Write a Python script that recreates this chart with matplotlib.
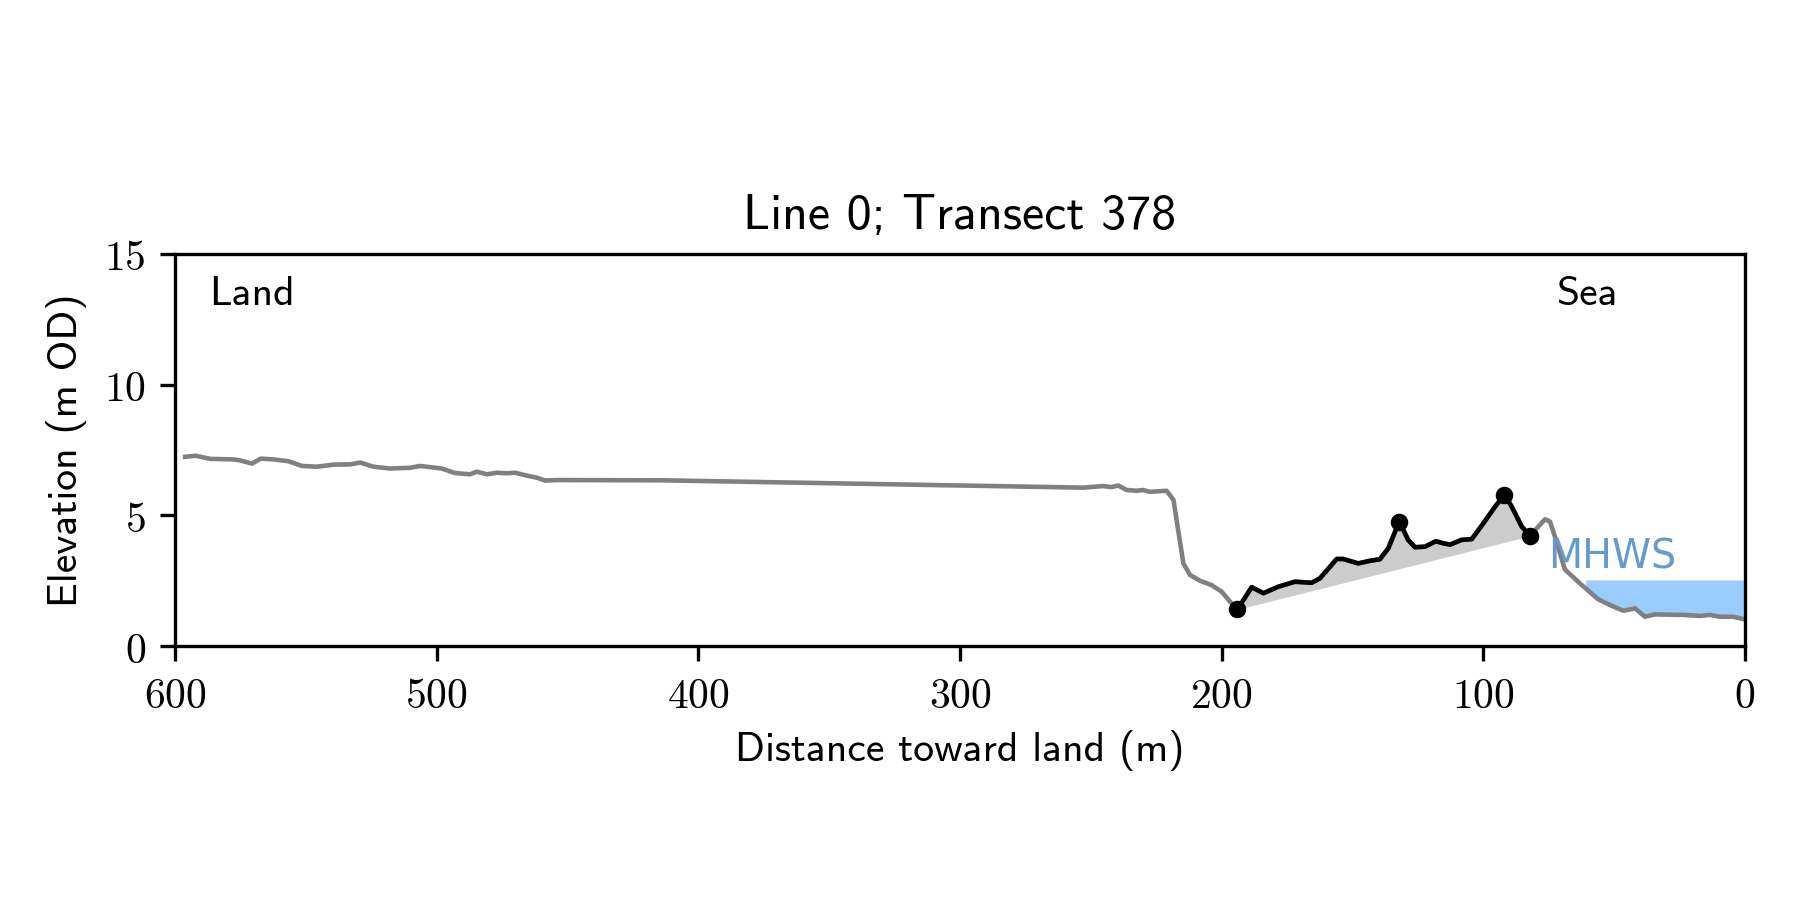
import numpy as np
import matplotlib
matplotlib.use("Agg")
import matplotlib.pyplot as plt
from matplotlib import ticker

plt.rcParams['mathtext.fontset'] = 'cm'
plt.rcParams['axes.unicode_minus'] = False

# profile along transect: distance toward land (m) and elevation (m OD)
dist = [596.1, 592.0, 586.5, 577.6, 575.0, 570.6, 567.2, 562.3, 556.6, 551.5,
        545.8, 539.4, 533.0, 529.2, 524.1, 517.8, 510.1, 506.3, 498.0, 493.0,
        487.3, 484.6, 480.8, 477.0, 473.2, 470.0, 465.5, 461.7, 458.5, 454.1,
        413.6, 252.9, 245.2, 242.1, 239.5, 236.3, 232.4, 230.1, 227.4, 221.0,
        218.4, 214.6, 212.1, 208.3, 203.8, 200.0, 196.8, 194.0, 188.5, 184.0,
        178.3, 172.0, 165.6, 162.4, 156.0, 153.5, 147.8, 143.3, 139.5, 136.3,
        132.1, 128.7, 126.1, 122.3, 118.1, 115.3, 112.7, 108.3, 104.4, 100.0,
        95.5, 91.9, 89.1, 85.3, 82.2, 76.4, 74.5, 72.6, 68.8, 63.1,
        60.8, 56.1, 51.6, 46.5, 42.0, 38.2, 34.4, 23.6, 17.2, 13.4,
        9.6, 4.5, 0.6]
elev = [7.24, 7.28, 7.16, 7.14, 7.10, 6.98, 7.17, 7.14, 7.07, 6.89,
        6.86, 6.94, 6.95, 7.02, 6.86, 6.79, 6.82, 6.89, 6.79, 6.62,
        6.57, 6.67, 6.57, 6.63, 6.61, 6.63, 6.52, 6.44, 6.33, 6.35,
        6.34, 6.06, 6.12, 6.08, 6.14, 5.97, 5.94, 5.97, 5.90, 5.94,
        5.59, 3.16, 2.72, 2.50, 2.33, 2.08, 1.70, 1.40, 2.25, 2.02,
        2.27, 2.46, 2.42, 2.59, 3.33, 3.33, 3.16, 3.26, 3.32, 3.74,
        4.76, 4.06, 3.78, 3.80, 4.01, 3.93, 3.88, 4.06, 4.09, 4.69,
        5.33, 5.78, 5.33, 4.57, 4.21, 4.85, 4.76, 4.18, 2.93, 2.40,
        2.20, 1.79, 1.57, 1.35, 1.44, 1.12, 1.21, 1.19, 1.15, 1.19,
        1.12, 1.12, 1.03]

dune_toe = 194.0
dune_end = 82.2
dune_points = [194.0, 132.1, 91.9, 82.2]
mhws = 2.53
mhws_start = 60.8

x = np.array(dist)
z = np.array(elev)

sans = 'cmss10'

fig = plt.figure(figsize=(6, 3), dpi=300)
ax = fig.add_axes([0.0972, 0.2822, 0.8722, 0.4356])

# sea below MHWS
sea = x <= mhws_start
ax.fill_between(x[sea], z[sea], mhws, color='#99ccff', lw=0, zorder=1)
ax.text(75.3, 2.95, 'MHWS', color='#6699cc', fontsize=9.5, ha='left', va='baseline')

ax.plot(x, z, color='gray', lw=1.1, zorder=2)

# dune section
seg = (x <= dune_toe) & (x >= dune_end)
xs, zs = x[seg], z[seg]
z0 = np.interp(dune_toe, x[::-1], z[::-1])
z1 = np.interp(dune_end, x[::-1], z[::-1])
chord = z0 + (z1 - z0) * (xs - dune_toe) / (dune_end - dune_toe)
ax.fill_between(xs, zs, chord, color='#cccccc', lw=0, zorder=1.5)
ax.plot(xs, zs, color='black', lw=1.1, zorder=3)
dp = np.array(dune_points)
ax.plot(dp, np.interp(dp, x[::-1], z[::-1]), 'o', color='black', ms=3.2, zorder=4)

ax.set_xlim(600, 0)
ax.set_ylim(0, 15)
ax.set_xticks([600, 500, 400, 300, 200, 100, 0])
ax.set_yticks([0, 5, 10, 15])
fmt = ticker.FuncFormatter(lambda v, p: r'$%d$' % v)
ax.xaxis.set_major_formatter(fmt)
ax.yaxis.set_major_formatter(fmt)
ax.tick_params(labelsize=10)

ax.text(0.022, 0.945, 'Land', transform=ax.transAxes, fontsize=10, family=sans, ha='left', va='top')
ax.text(0.880, 0.945, 'Sea', transform=ax.transAxes, fontsize=10, family=sans, ha='left', va='top')
ax.set_title('Line 0; Transect 378', fontsize=12, family=sans)
ax.set_xlabel('Distance toward land (m)', fontsize=10, family=sans, labelpad=3)
ax.set_ylabel('Elevation (m OD)', fontsize=10, family=sans)

fig.savefig('out.png', dpi=300)
